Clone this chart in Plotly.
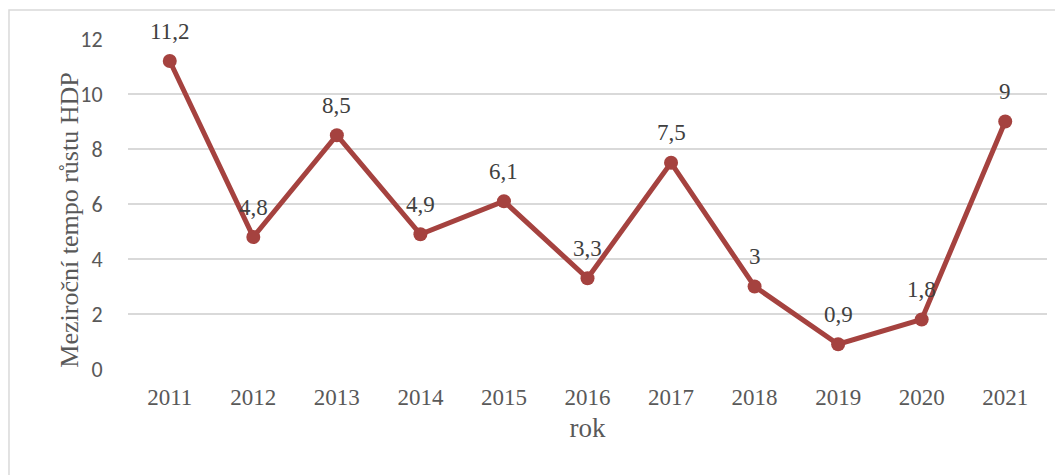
import plotly.graph_objects as go

# Data
years = ['2011', '2012', '2013', '2014', '2015', '2016', '2017', '2018', '2019', '2020', '2021']
growth = [11.2, 4.8, 8.5, 4.9, 6.1, 3.3, 7.5, 3.0, 0.9, 1.8, 9.0]
labels = ['11,2', '4,8', '8,5', '4,9', '6,1', '3,3', '7,5', '3', '0,9', '1,8', '9']
y_ticks = [0, 2, 4, 6, 8, 10, 12]

line_color = '#A5423F'
serif = 'Liberation Serif, Times New Roman, serif'
sans = 'Carlito, Lato, Liberation Sans, sans-serif'
text_grey = '#595959'

fig = go.Figure()

fig.add_trace(go.Scatter(
    x=years, y=growth, mode='lines+markers',
    line=dict(color=line_color, width=5),
    marker=dict(color=line_color, size=14),
    hoverinfo='x+y', showlegend=False
))

# Data labels above points (category index used as x, since years look numeric)
for i, (val, lab) in enumerate(zip(growth, labels)):
    fig.add_annotation(x=i, y=val, text=lab, showarrow=False, yshift=30,
                       font=dict(family=serif, size=23, color='#404040'))

# Y axis title, placed like the original (a bit below axis centre)
fig.add_annotation(xref='paper', yref='paper', x=-0.082, y=0.45, textangle=-90,
                   text='Meziroční tempo růstu HDP', showarrow=False,
                   font=dict(family=serif, size=26, color=text_grey))

# Chart border
fig.add_shape(type='rect', xref='paper', yref='paper',
              x0=-0.1295, x1=1.03, y0=-0.34, y1=1.088,
              line=dict(color='#D9D9D9', width=1.5), fillcolor='rgba(0,0,0,0)', layer='below')

# page body has an 8px margin, so the figure is sized/offset to compensate
fig.update_layout(
    width=1055, height=467,
    margin=dict(l=120, r=16, t=31, b=106),
    paper_bgcolor='white', plot_bgcolor='white',
    xaxis=dict(
        type='category', range=[-0.5, 10.5], showgrid=False, showline=False, zeroline=False,
        ticks='outside', ticklen=7, tickcolor='rgba(0,0,0,0)',
        tickfont=dict(family=serif, size=23, color=text_grey),
        title=dict(text='rok', font=dict(family=serif, size=27, color=text_grey), standoff=9)
    ),
    yaxis=dict(
        range=[0, 12], tickvals=y_ticks, showgrid=True, gridcolor='#D9D9D9', gridwidth=1.5,
        zeroline=False, showline=False,
        ticks='outside', ticklen=20, tickcolor='rgba(0,0,0,0)',
        tickfont=dict(family=sans, size=22, color=text_grey)
    )
)

fig.write_html("out.html")
